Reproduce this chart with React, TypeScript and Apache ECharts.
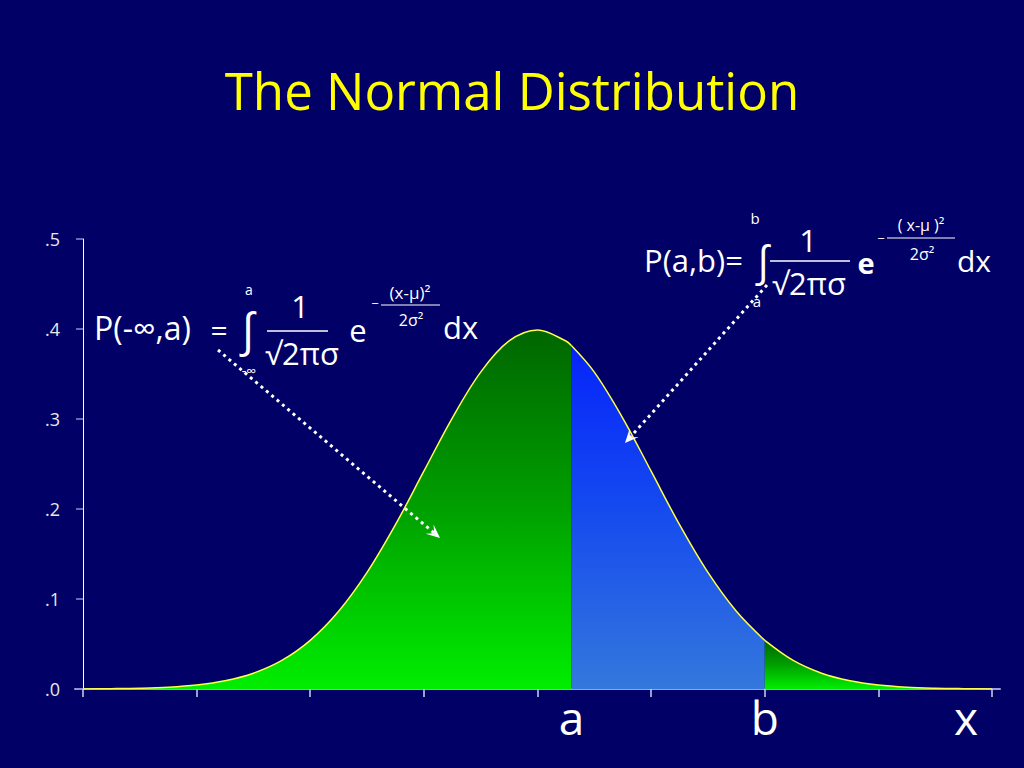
import React, { useEffect, useRef } from "react";
import * as echarts from "echarts";

// Curve: x in axis units (tick 0 .. tick 8, mean at 4), y = density
const curveX = [0, 0.25, 0.5, 0.75, 1, 1.25, 1.5, 1.75, 2, 2.25, 2.5, 2.75, 3, 3.25, 3.5, 3.75, 4, 4.25, 4.3, 4.5, 4.75, 5, 5.25, 5.5, 5.75, 6, 6.25, 6.5, 6.75, 7, 7.25, 7.5, 7.75, 8];
const curveY = [0.0001, 0.0004, 0.0009, 0.002, 0.0044, 0.0091, 0.0175, 0.0317, 0.054, 0.0863, 0.1295, 0.1826, 0.242, 0.3011, 0.3521, 0.3867, 0.3989, 0.3867, 0.3814, 0.3521, 0.3011, 0.242, 0.1826, 0.1295, 0.0863, 0.054, 0.0317, 0.0175, 0.0091, 0.0044, 0.002, 0.0009, 0.0004, 0.0001];
const boundA = 4.3;
const boundB = 6;
const xTickValues = [0, 1, 2, 3, 4, 5, 6, 7, 8];
const xLabelValues = [4.3, 6, 7.77];
const xLabelTexts = ["a", "b", "x"];
const yTickLabels = [".0", ".1", ".2", ".3", ".4", ".5"];

const BG = "#000066";
const FONT = "'Open Sans', 'DejaVu Sans', sans-serif";

function pairs(lo: number, hi: number) {
  const out: number[][] = [];
  curveX.forEach((x, i) => {
    if (x >= lo && x <= hi) out.push([x, curveY[i]]);
  });
  return out;
}

function txt(x: number, y: number, text: string, size: number, opts: any = {}) {
  return {
    type: "text",
    x,
    y,
    z: 100,
    style: {
      text,
      fill: "#ffffff",
      fontSize: size,
      fontFamily: FONT,
      fontWeight: opts.bold ? "bold" : "normal",
      textAlign: opts.align || "center",
      textVerticalAlign: "middle",
    },
  };
}

function ln(x1: number, y1: number, x2: number, y2: number, w = 1.5) {
  return {
    type: "line",
    z: 100,
    shape: { x1, y1, x2, y2 },
    style: { stroke: "#ffffff", lineWidth: w },
  };
}

function arrow(x1: number, y1: number, x2: number, y2: number) {
  const dx = x2 - x1;
  const dy = y2 - y1;
  const L = Math.hypot(dx, dy);
  const ux = -dx / L;
  const uy = -dy / L;
  const len = 15;
  const rot = (a: number) => [
    x2 + len * (ux * Math.cos(a) - uy * Math.sin(a)),
    y2 + len * (ux * Math.sin(a) + uy * Math.cos(a)),
  ];
  const notch = [x2 + ux * len * 0.5, y2 + uy * len * 0.5];
  return [
    {
      type: "line",
      z: 100,
      shape: { x1, y1, x2: x2 + ux * 6, y2: y2 + uy * 6 },
      style: { stroke: "#ffffff", lineWidth: 3, lineDash: [3, 4] },
    },
    {
      type: "polygon",
      z: 100,
      shape: { points: [[x2, y2], rot(0.42), notch, rot(-0.42)] },
      style: { fill: "#ffffff" },
    },
  ];
}

const greenGrad = () =>
  new echarts.graphic.LinearGradient(0, 0, 0, 1, [
    { offset: 0, color: "#006600" },
    { offset: 0.5, color: "#00a000" },
    { offset: 1, color: "#00ee00" },
  ]);
const blueGrad = () =>
  new echarts.graphic.LinearGradient(0, 0, 0, 1, [
    { offset: 0, color: "#0624fa" },
    { offset: 0.45, color: "#1448f0" },
    { offset: 1, color: "#3478dc" },
  ]);

export default function App() {
  const ref = useRef<HTMLDivElement>(null);
  useEffect(() => {
    if (!ref.current) return;
    const chart = echarts.init(ref.current, undefined, { renderer: "svg" });
    const lineStyle = { color: "#ffff44", width: 1.5 };
    const mk = (name: string, data: number[][], grad: any) => ({
      name,
      type: "line",
      data,
      smooth: 0.35,
      symbol: "none",
      lineStyle,
      areaStyle: { color: grad, opacity: 1 },
      z: 2,
    });
    chart.setOption({
      animation: false,
      backgroundColor: BG,
      title: {
        text: "The Normal Distribution",
        left: "center",
        top: 59,
        textStyle: { color: "#ffff00", fontSize: 51, fontWeight: "normal", fontFamily: FONT },
      },
      grid: { left: 75, right: 24, top: 239, bottom: 79, containLabel: false },
      xAxis: {
        type: "value",
        min: -0.07,
        max: 8.07,
        axisLine: { show: true, lineStyle: { color: "#a0a0d4", width: 2 } },
        axisTick: { show: true, customValues: xTickValues, length: 8, lineStyle: { color: "#d0d0f4", width: 1.5 } },
        axisLabel: {
          show: true,
          customValues: xLabelValues,
          formatter: (v: number) => {
            const i = xLabelValues.findIndex((x) => Math.abs(x - v) < 1e-6);
            return i >= 0 ? xLabelTexts[i] : "";
          },
          color: "#ffffff",
          fontSize: 46,
          fontFamily: FONT,
          margin: 5,
        },
        splitLine: { show: false },
      },
      yAxis: {
        type: "value",
        min: 0,
        max: 0.5,
        interval: 0.1,
        axisLine: { show: true, onZero: true, lineStyle: { color: "#ffffff", width: 1 } },
        axisTick: { show: true, length: 7, lineStyle: { color: "#8a8ad0", width: 1.5 } },
        axisLabel: {
          formatter: (v: number) => yTickLabels[Math.round(v * 10)],
          color: "#e8e8e8",
          fontSize: 18,
          fontFamily: FONT,
          margin: 15,
        },
        splitLine: { show: false },
      },
      series: [
        mk("left", pairs(0, boundA), greenGrad()),
        mk("middle", pairs(boundA, boundB), blueGrad()),
        mk("right", pairs(boundB, 8), greenGrad()),
      ],
      graphic: [
        // Left formula
        txt(94, 327, "P(-∞,a)", 32, { align: "left" }),
        txt(219, 329, "=", 30),
        txt(248, 328, "∫", 46),
        txt(249, 289, "a", 14),
        txt(249, 370, "-∞", 14),
        txt(300, 306, "1", 31),
        ln(267, 331, 328, 331),
        txt(265, 353, "√2πσ", 31, { align: "left" }),
        txt(358, 330, "e", 31),
        txt(375, 303, "−", 13),
        txt(410, 292, "(x-μ)²", 17),
        ln(381, 305, 440, 305, 1),
        txt(411, 320, "2σ²", 16),
        txt(443, 327, "dx", 31, { align: "left" }),
        // Right formula
        txt(644, 260, "P(a,b)=", 31, { align: "left" }),
        txt(763, 259, "∫", 42),
        txt(755, 218, "b", 15),
        txt(757, 301, "a", 15),
        txt(808, 240, "1", 31),
        ln(770, 261, 850, 261),
        txt(772, 283, "√2πσ", 31, { align: "left" }),
        txt(866, 262, "e", 29, { bold: true }),
        txt(881, 238, "−", 13),
        txt(921, 225, "( x-μ )²", 16),
        ln(887, 238, 955, 238, 1),
        txt(922, 254, "2σ²", 16),
        txt(957, 260, "dx", 30, { align: "left" }),
        // Arrows
        ...arrow(218, 350, 440, 538),
        ...arrow(767, 285, 625, 443),
      ],
    });
    return () => chart.dispose();
  }, []);
  return (
    <div
      ref={ref}
      style={{ position: "fixed", left: 0, top: 0, width: 1024, height: 768, background: BG }}
    />
  );
}
